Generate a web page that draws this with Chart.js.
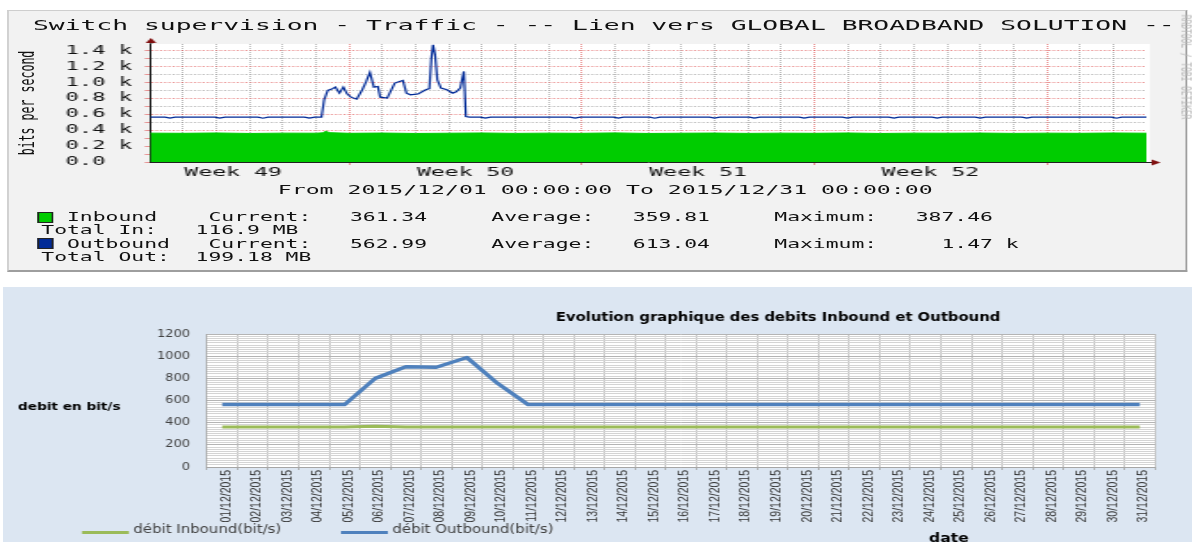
<!DOCTYPE html>
<html>
<head>
<meta charset="utf-8">
<script src="https://cdn.jsdelivr.net/npm/chart.js@4.4.1/dist/chart.umd.min.js"></script>
<style>
  html, body { margin: 0; padding: 0; background: #fff; }
  body { width: 1192px; height: 542px; overflow: hidden; position: relative; }

  /* rrdtool panel, drawn at its native width and stretched like the source */
  #top { position: absolute; left: 0; top: 0; width: 670px; height: 280px;
         transform: scaleX(1.78); transform-origin: 0 0;
         font-family: 'DejaVu Sans Mono', monospace; color: #111; }
  #frame { position: absolute; left: 3.9px; top: 10px; width: 661px; height: 259px;
           background: #f2f2f2; border-top: 1px solid #cecece; border-left: 1px solid #cecece;
           border-right: 1px solid #9e9e9e; border-bottom: 2px solid #9e9e9e; }
  #rrd { position: absolute; left: 0; top: 0; }
  .t { position: absolute; white-space: pre; }
  #title { left: 18.5px; top: 15.6px; font-size: 14.8px; line-height: 17px; }
  #ytitle { left: 14.6px; top: 103px; font-size: 11.6px; transform: translate(-50%, -50%) rotate(-90deg); }
  #mark { left: 666px; top: 67px; font-size: 7.9px; color: #b8b8b8; transform: translate(-50%, -50%) rotate(90deg); }
  #period { left: 0; width: 680px; top: 182px; font-size: 13px; line-height: 15px; text-align: center; }
  #legend { left: 23.2px; top: 211px; font-size: 12px; line-height: 13.4px; }
  .box { position: absolute; left: 20.5px; width: 7.4px; height: 9px; border: 1px solid #222; }

  /* excel panel */
  #bottom { position: absolute; left: 3px; top: 287px; width: 915px; height: 270px;
            background: #dce6f2; transform: scaleX(1.3); transform-origin: 0 0; }
  #excel { position: absolute; left: 0; top: 0; }
</style>
</head>
<body>
<div id="top">
  <div id="frame"></div>
  <canvas id="rrd" width="670" height="200"></canvas>
  <div class="t" id="title">Switch supervision - Traffic - -- Lien vers GLOBAL BROADBAND SOLUTION --</div>
  <div class="t" id="ytitle">bits per second</div>
  <div class="t" id="mark">RRDTOOL / TOBI OETIKER</div>
  <div class="t" id="period">From 2015/12/01 00:00:00 To 2015/12/31 00:00:00</div>
  <div class="box" style="top:211.5px; background:#00cc00;"></div>
  <div class="box" style="top:238.3px; background:#002a97;"></div>
  <div class="t" id="legend">  Inbound    Current:   361.34     Average:   359.81     Maximum:   387.46
Total In:   116.9 MB
  Outbound   Current:   562.99     Average:   613.04     Maximum:     1.47 k
Total Out:  199.18 MB</div>
</div>

<div id="bottom">
  <canvas id="excel" width="915" height="270"></canvas>
</div>

<script>
// ---- rrdtool graph data (x in days since 2015/12/01 00:00) ----
const outDays = [0, 0.45, 0.6, 0.75, 1.95, 2.1, 2.25, 3.25, 3.4, 3.55, 4.65, 4.8, 4.95,
    5.16, 5.24, 5.35, 5.47, 5.58, 5.7, 5.82, 5.93, 6.05, 6.22, 6.39, 6.51, 6.62, 6.74, 6.86, 6.93,
    7.14, 7.37, 7.61, 7.72, 7.84, 8.07, 8.3, 8.41, 8.47, 8.52, 8.58, 8.65, 8.76, 8.94, 9.11, 9.22,
    9.34, 9.45, 9.51, 9.62, 9.95, 10.1, 10.25, 12.65, 12.8, 12.95, 13.95, 14.1, 14.25, 15.05, 15.2,
    15.35, 16.85, 17.0, 17.15, 18.05, 18.2, 18.35, 19.55, 19.7, 19.85, 20.85, 21.0, 21.15, 22.25,
    22.4, 22.55, 23.55, 23.7, 23.85, 24.85, 25.0, 25.15, 26.25, 26.4, 26.55, 28.95, 29.1, 29.25, 30];
const outBits = [563, 563, 550, 563, 563, 551, 563, 563, 549, 563, 563, 550, 563,
    562, 780, 897, 914, 939, 864, 939, 855, 813, 788, 906, 1010, 1123, 939, 947, 813,
    801, 990, 1023, 864, 843, 855, 906, 920, 1300, 1470, 1350, 1031, 927, 906, 864, 880,
    927, 1136, 570, 563, 563, 550, 563, 563, 551, 563, 563, 550, 563, 563, 549,
    563, 563, 551, 563, 563, 550, 563, 563, 551, 563, 563, 550, 563, 563,
    551, 563, 563, 550, 563, 563, 551, 563, 563, 550, 563, 563, 549, 563, 563];
const inDays = [0, 1, 2, 3, 4, 5, 5.2, 5.3, 5.4, 6, 7, 8, 9, 10, 11, 12, 13, 14, 15, 16, 17, 18,
    19, 20, 21, 22, 23, 24, 25, 26, 27, 28, 29, 30];
const inBits = [362, 360, 364, 358, 362, 361, 366, 387, 368, 360, 363, 358, 361, 364, 359, 362,
    360, 365, 358, 361, 363, 359, 362, 360, 364, 358, 362, 361, 363, 359, 362, 360, 364, 361];
const weekCenters = [2.5, 9.5, 16.5, 23.5];
const weekNames = ['Week 49', 'Week 50', 'Week 51', 'Week 52'];
const weekStarts = [6, 13, 20, 27];
const yTickLabels = ['0.0  ', '0.2 k', '0.4 k', '0.6 k', '0.8 k', '1.0 k', '1.2 k', '1.4 k'];

// ---- excel chart data ----
const dates = ['01/12/2015', '02/12/2015', '03/12/2015', '04/12/2015', '05/12/2015', '06/12/2015',
    '07/12/2015', '08/12/2015', '09/12/2015', '10/12/2015', '11/12/2015', '12/12/2015', '13/12/2015',
    '14/12/2015', '15/12/2015', '16/12/2015', '17/12/2015', '18/12/2015', '19/12/2015', '20/12/2015',
    '21/12/2015', '22/12/2015', '23/12/2015', '24/12/2015', '25/12/2015', '26/12/2015', '27/12/2015',
    '28/12/2015', '29/12/2015', '30/12/2015', '31/12/2015'];
const inboundBits = [360, 360, 360, 360, 360, 367, 361, 360, 360, 360, 360, 360, 360, 360, 360, 360,
    360, 360, 360, 360, 360, 360, 360, 360, 360, 360, 360, 360, 360, 360, 360];
const outboundBits = [563, 563, 563, 563, 563, 800, 905, 900, 988, 755, 563, 563, 563, 563, 563, 563,
    563, 563, 563, 563, 563, 563, 563, 563, 563, 563, 563, 563, 563, 563, 563];

const GRID = 'rgba(143,143,143,0.6)';
const MGRID = 'rgba(222,80,80,0.6)';

const rrdDecor = {
    id: 'rrdDecor',
    beforeDraw(chart) {
        const {ctx, chartArea: a} = chart;
        ctx.save();
        ctx.fillStyle = '#fff';
        ctx.fillRect(a.left, a.top, a.right - a.left + 2, a.bottom - a.top);
        ctx.restore();
    },
    afterDraw(chart) {
        const {ctx, chartArea: a} = chart;
        ctx.save();
        ctx.strokeStyle = '#202020';
        ctx.lineWidth = 1;
        ctx.beginPath();
        ctx.moveTo(a.left + 0.5, a.top);
        ctx.lineTo(a.left + 0.5, a.top - 3);
        ctx.moveTo(a.right, a.bottom + 0.5);
        ctx.lineTo(a.right + 4, a.bottom + 0.5);
        ctx.stroke();
        ctx.fillStyle = '#801010';
        ctx.beginPath();
        ctx.moveTo(a.left - 2.5, a.top - 1);
        ctx.lineTo(a.left + 3.5, a.top - 1);
        ctx.lineTo(a.left + 0.5, a.top - 6);
        ctx.fill();
        ctx.beginPath();
        ctx.moveTo(a.right + 3, a.bottom - 2.5);
        ctx.lineTo(a.right + 3, a.bottom + 3.5);
        ctx.lineTo(a.right + 8, a.bottom + 0.5);
        ctx.fill();
        ctx.restore();
    }
};

new Chart(document.getElementById('rrd'), {
    type: 'line',
    data: {
        datasets: [{
            label: 'Outbound',
            data: outDays.map((d, i) => ({x: d, y: outBits[i]})),
            borderColor: '#002a97',
            borderWidth: 1.2,
            pointRadius: 0,
            fill: false
        }, {
            label: 'Inbound',
            data: inDays.map((d, i) => ({x: d, y: inBits[i]})),
            borderColor: '#00cc00',
            backgroundColor: '#00cc00',
            borderWidth: 1,
            pointRadius: 0,
            fill: 'origin'
        }]
    },
    options: {
        responsive: false,
        animation: false,
        events: [],
        layout: {padding: {top: 44, right: 26, bottom: 20, left: 0}},
        plugins: {legend: {display: false}, tooltip: {enabled: false}},
        scales: {
            x: {
                type: 'linear', min: 0, max: 30,
                afterFit: s => { s.height = 18; },
                ticks: {
                    stepSize: 0.5, autoSkip: false, maxRotation: 0, minRotation: 0, padding: 0,
                    color: '#111', font: {family: 'DejaVu Sans Mono', size: 13},
                    callback: v => { const i = weekCenters.indexOf(v); return i >= 0 ? weekNames[i] : ''; }
                },
                grid: {
                    tickLength: 3,
                    color: c => {
                        const v = c.tick.value;
                        if (v <= 0 || v >= 30 || v % 1 !== 0) return 'transparent';
                        return weekStarts.includes(v) ? MGRID : GRID;
                    },
                    tickColor: c => weekStarts.includes(c.tick.value) ? MGRID : 'transparent'
                },
                border: {color: '#202020', dash: [1, 1]}
            },
            y: {
                min: 0, max: 1480,
                afterFit: s => { s.width = 84.3; },
                ticks: {
                    stepSize: 100, includeBounds: false, autoSkip: false, padding: 7,
                    color: '#111', font: {family: 'DejaVu Sans Mono', size: 12.5},
                    callback: v => v % 200 === 0 ? yTickLabels[v / 200] : ''
                },
                grid: {
                    tickLength: 3,
                    color: c => c.tick.value === 0 ? 'transparent' : (c.tick.value % 200 === 0 ? MGRID : GRID),
                    tickColor: MGRID
                },
                border: {color: '#202020', dash: [1.2, 1.2]}
            }
        }
    },
    plugins: [rrdDecor]
});

// ---- excel chart ----
const chartTitle = 'Evolution graphique des debits Inbound et Outbound';
const yTitle = 'debit en bit/s';
const xTitle = 'date';

const excelText = {
    id: 'excelText',
    beforeDraw(chart) {
        const {ctx, chartArea: a} = chart;
        ctx.save();
        ctx.fillStyle = '#fff';
        ctx.fillRect(a.left, a.top, a.right - a.left, a.bottom - a.top);
        ctx.restore();
    },
    afterDraw(chart) {
        const ctx = chart.ctx;
        ctx.save();
        ctx.fillStyle = '#000';
        ctx.textBaseline = 'middle';
        ctx.textAlign = 'center';
        ctx.font = "bold 11.4px 'DejaVu Sans'";
        ctx.fillText(chartTitle, 596.2, 31);
        ctx.textAlign = 'left';
        ctx.font = "bold 10.5px 'DejaVu Sans'";
        ctx.fillText(yTitle, 11.5, 120);
        ctx.textBaseline = 'top';
        ctx.font = "bold 12px 'DejaVu Sans'";
        ctx.fillText(xTitle, 712.3, 246);
        ctx.textBaseline = 'middle';
        ctx.font = "11.5px 'DejaVu Sans'";
        ctx.fillStyle = '#404040';
        const legendX = [60.8, 260];
        chart.data.datasets.forEach((ds, i) => {
            const x0 = legendX[i];
            ctx.strokeStyle = ds.borderColor;
            ctx.lineWidth = 3;
            ctx.beginPath();
            ctx.moveTo(x0, 245.5);
            ctx.lineTo(x0 + 36, 245.5);
            ctx.stroke();
            ctx.fillText(ds.label, x0 + 39.5, 243);
        });
        ctx.restore();
    }
};

new Chart(document.getElementById('excel'), {
    type: 'line',
    data: {
        labels: dates,
        datasets: [{
            label: 'débit Inbound(bit/s)',
            data: inboundBits,
            borderColor: '#9bbb59',
            borderWidth: 3,
            pointRadius: 0,
            fill: false
        }, {
            label: 'débit Outbound(bit/s)',
            data: outboundBits,
            borderColor: '#4f81bd',
            borderWidth: 3.5,
            pointRadius: 0,
            fill: false,
            borderJoinStyle: 'round'
        }]
    },
    options: {
        responsive: false,
        animation: false,
        events: [],
        layout: {padding: {top: 47, right: 28.8, bottom: 0, left: 0}},
        plugins: {legend: {display: false}, tooltip: {enabled: false}},
        scales: {
            x: {
                offset: true,
                afterFit: s => { s.height = 90; },
                grid: {offset: true, color: '#bcbcbc', tickLength: 3, tickColor: '#a6a6a6'},
                border: {color: '#a6a6a6'},
                ticks: {
                    autoSkip: false, minRotation: 90, maxRotation: 90, padding: 0, labelOffset: 3,
                    color: '#333',
                    font: {family: 'Liberation Sans', size: 10.5}
                }
            },
            y: {
                min: 0, max: 1200,
                afterFit: s => { s.width = 156.9; },
                ticks: {
                    stepSize: 20, autoSkip: false, padding: 13,
                    color: '#404040', font: {family: 'DejaVu Sans', size: 10},
                    callback: v => v % 200 === 0 ? v : ''
                },
                grid: {drawTicks: false, color: c => c.tick.value % 200 === 0 ? '#b4b4b4' : '#d4d4d4'},
                border: {color: '#a6a6a6'}
            }
        }
    },
    plugins: [excelText]
});
</script>
</body>
</html>
